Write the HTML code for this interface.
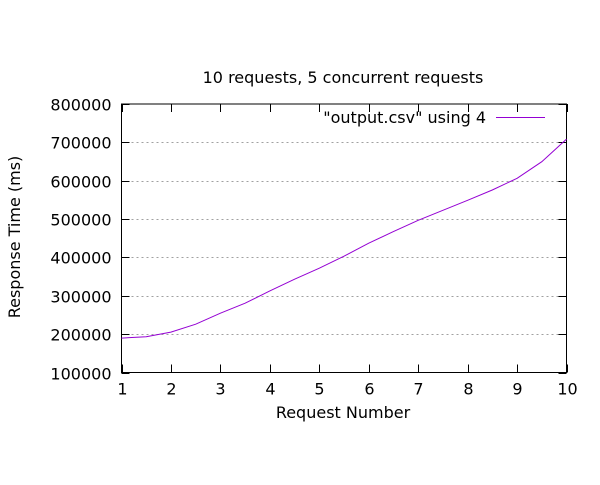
<!DOCTYPE html>
<html><head><meta charset="utf-8"><style>
body{margin:0;background:#fff}
svg text{font-family:"DejaVu Sans","Liberation Sans",sans-serif;font-size:16px;fill:#000}
</style></head><body>
<svg id="chart" width="600" height="480" viewBox="0 0 600 480">
<rect width="600" height="480" fill="#fff"/>
<text x="343" y="83" text-anchor="middle">10 requests, 5 concurrent requests</text>
<g id="grid"></g><g id="axes"></g>
<text x="343" y="418" text-anchor="middle">Request Number</text>
<text transform="translate(20,237) rotate(-90)" text-anchor="middle">Response Time (ms)</text>
<text x="486" y="123" text-anchor="end">"output.csv" using 4</text>
<line x1="496" y1="117.5" x2="545" y2="117.5" stroke="#9400d3" stroke-width="1"/>
<g id="series"></g>
</svg>
<script>
const xValues=[1,1.5,2,2.5,3,3.5,4,4.5,5,5.5,6,6.5,7,7.5,8,8.5,9,9.5,10];
const responseTimes=[189600,193000,205200,226000,254700,280700,312800,343200,371900,403100,437000,467300,496900,522900,548900,575800,606200,649600,708600];
const xTicks=[1,2,3,4,5,6,7,8,9,10];
const yTicks=[100000,200000,300000,400000,500000,600000,700000,800000];
const L=121.5,R=566.5,T=104,B=372.5;
const sx=v=>L+(v-1)/9*(R-L);
const sy=v=>B-(v-100000)/700000*(B-T);
const NS="http://www.w3.org/2000/svg";
const grid=document.getElementById('grid'),axes=document.getElementById('axes'),series=document.getElementById('series');
function mk(tag,attrs,parent){const e=document.createElementNS(NS,tag);for(const k in attrs)e.setAttribute(k,attrs[k]);parent.appendChild(e);return e;}
yTicks.forEach(v=>{
  const y=Math.round(sy(v))+0.5;
  if(v>100000&&v<800000){
    const g=mk('line',{x1:L,x2:R,y1:y,y2:y,stroke:'#a0a0a0','stroke-dasharray':'2,3','stroke-width':1},grid);
    
    
  }
  const t1=mk('line',{x1:L,x2:L+8,y1:y,y2:y,stroke:'#000'},axes);
  
  
  const t2=mk('line',{x1:R-8,x2:R,y1:y,y2:y,stroke:'#000'},axes);
  
  
  const tx=mk('text',{x:L-10,y:y+6,'text-anchor':'end'},axes);
  tx.textContent=v;
  
  
});
xTicks.forEach(v=>{
  const x=Math.round(sx(v))+0.5;
  const t1=mk('line',{x1:x,x2:x,y1:B,y2:B-8,stroke:'#000'},axes);
  
  
  const t2=mk('line',{x1:x,x2:x,y1:T,y2:T+8,stroke:'#000'},axes);
  
  
  const tx=mk('text',{x:x,y:B+22,'text-anchor':'middle'},axes);
  tx.textContent=v;
  
  
});
const box=mk('rect',{x:L,y:T,width:R-L,height:B-T,fill:'none',stroke:'#000'},axes);


const pts=xValues.map((x,i)=>sx(x).toFixed(1)+','+sy(responseTimes[i]).toFixed(1)).join(' ');
const pl=mk('polyline',{points:pts,fill:'none',stroke:'#9400d3','stroke-width':1},series);


</script>
</body></html>
